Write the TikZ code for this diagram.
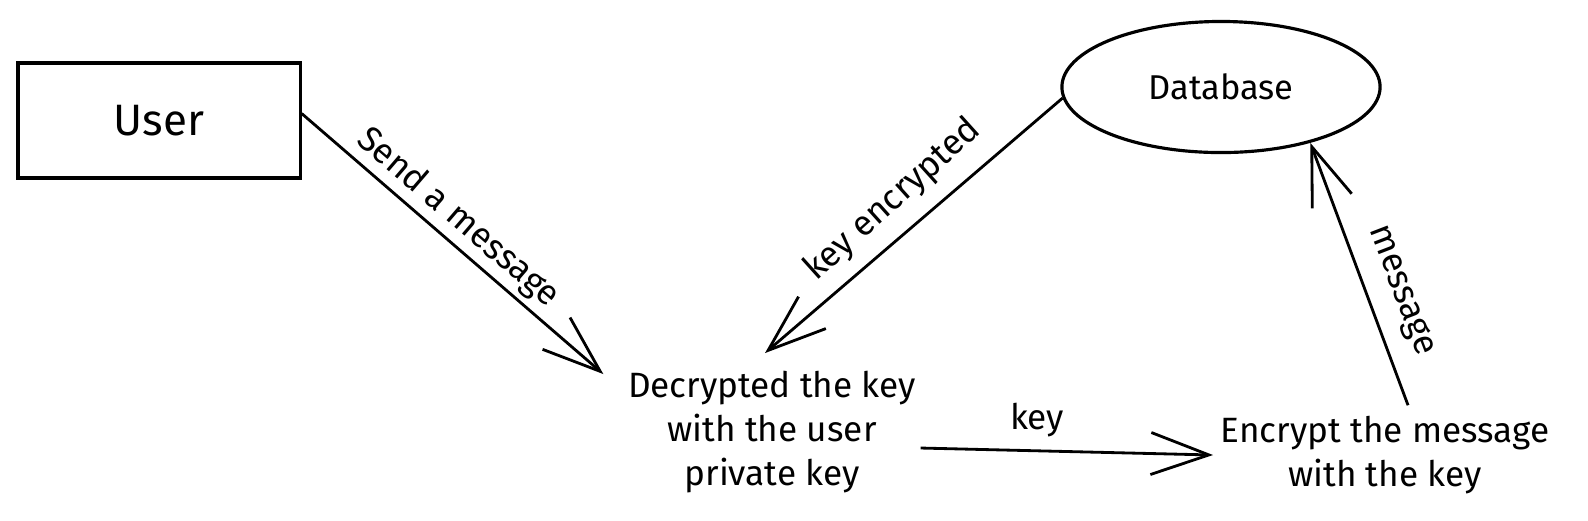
\documentclass[tikz,border=0pt]{standalone}
\usepackage{fontspec}
\setmainfont{Fira Sans}
\usetikzlibrary{arrows.meta,shapes.geometric}
\tikzset{
  lbl/.style={font=\fontsize{10}{12}\selectfont, inner sep=0pt, align=center},
  arr/.style={line width=0.8pt, -{Straight Barb[length=0.58cm,width=0.42cm,line width=0.8pt]}},
  box/.style={draw, line width=0.9pt, minimum width=2.82cm, minimum height=1.15cm, inner sep=0pt},
  oval/.style={draw, ellipse, line width=0.9pt, minimum width=3.18cm, minimum height=1.31cm, inner sep=0pt}
}
\begin{document}
\begin{tikzpicture}[x=0.01cm,y=-0.01cm]
\useasboundingbox (0,0) rectangle (1588,520);
\node[box, font=\fontsize{12.5}{15}\selectfont] (user) at (159,120.5) {User};
\node[oval, font=\fontsize{9.8}{12}\selectfont] (db) at (1221,87) {Database};
\node[lbl] (dec) at (772,432) {Decrypted the key\\[0.6pt]with the user\\[0.6pt]private key};
\node[lbl] (enc) at (1385,455) {Encrypt the message\\[0.6pt]with the key};

\draw[arr] ([yshift=0.07cm]user.east) -- ([shift={(-0.24cm,-0.04cm)}]dec.north west);
\draw[arr] (db.184) -- ([shift={(-0.07cm,0.17cm)}]dec.north);
\draw[arr] ([shift={(0.04cm,-0.16cm)}]dec.east) -- ([xshift=-0.07cm]enc.west);
\draw[arr] ([shift={(0.23cm,0.1cm)}]enc.north) -- (db.-32);

\node[lbl, rotate=-40.7] (l1) at (458,218) {Send a message};
\node[lbl, rotate=42] (l2) at (893,200) {key encrypted};
\node[lbl, rotate=-69] (l3) at (1400,291) {message};
\node[lbl] (l4) at (1037,420) {key};
\end{tikzpicture}
\end{document}
